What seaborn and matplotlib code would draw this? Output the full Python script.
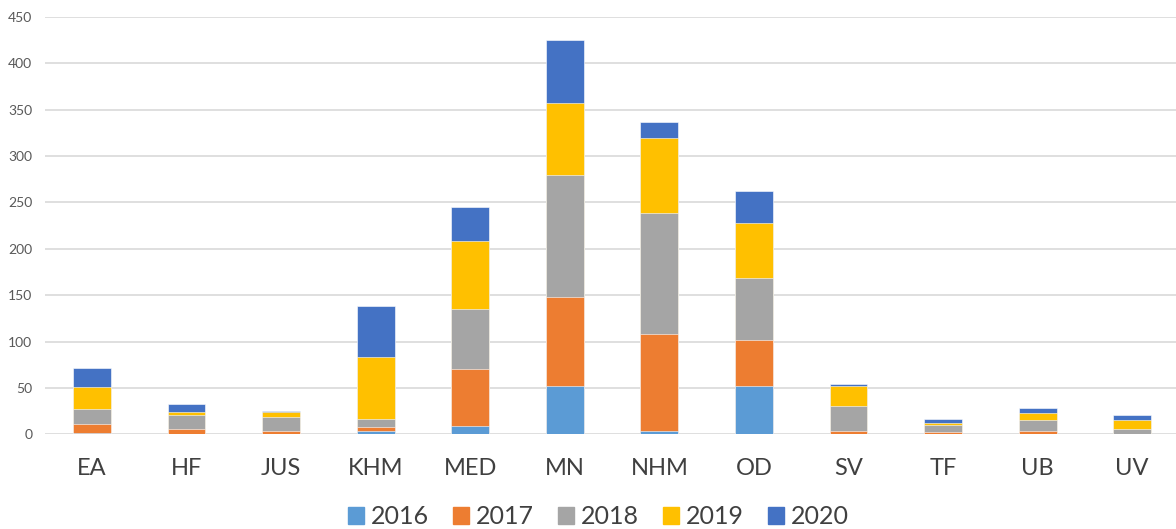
import matplotlib.pyplot as plt
import matplotlib.patches as mpatches
import numpy as np
import pandas as pd
import seaborn as sns

categories = ["EA", "HF", "JUS", "KHM", "MED", "MN", "NHM", "OD", "SV", "TF", "UB", "UV"]
years = ["2016", "2017", "2018", "2019", "2020"]
v2016 = [1, 0, 0, 4, 9, 52, 4, 52, 0, 0, 0, 0]
v2017 = [10, 6, 4, 4, 61, 96, 104, 50, 4, 3, 4, 0]
v2018 = [16, 15, 15, 9, 65, 132, 131, 67, 27, 7, 11, 6]
v2019 = [24, 3, 5, 66, 73, 77, 80, 59, 21, 2, 8, 9]
v2020 = [20, 9, 1, 55, 37, 68, 18, 34, 2, 4, 5, 6]
colors = ["#5B9BD5", "#ED7D31", "#A5A5A5", "#FFC000", "#4472C4"]

sns.set_style("white")
plt.rcParams["font.family"] = ["Lato", "DejaVu Sans"]

series = [v2016, v2017, v2018, v2019, v2020]
cum = np.cumsum(np.array(series), axis=0)

fig = plt.figure(figsize=(11.76, 5.29), dpi=100)
ax = fig.add_axes([0.038, 0.179, 0.965, 0.789])

# draw the cumulative totals from the top layer down so each year covers the one above
for i in range(len(years) - 1, -1, -1):
    df = pd.DataFrame({"cat": categories, "val": cum[i]})
    sns.barplot(data=df, x="cat", y="val", order=categories, color=colors[i],
                saturation=1, width=0.4, ax=ax, edgecolor="white", linewidth=0.4)

ax.set_ylim(0, 450)
ax.set_xlim(-0.5, 11.5)
ax.set_yticks(range(0, 451, 50))
ax.yaxis.grid(True, color="#D9D9D9", linewidth=1.2)
ax.set_axisbelow(True)
for s in ax.spines.values():
    s.set_visible(False)
ax.set_xlabel("")
ax.set_ylabel("")
ax.tick_params(axis="y", length=0, labelsize=10, labelcolor="#595959", pad=9)
ax.tick_params(axis="x", length=0, labelsize=17, labelcolor="#404040", pad=17)

handles = [mpatches.Patch(color=c, label=y) for c, y in zip(colors, years)]
fig.legend(handles=handles, loc="center", bbox_to_anchor=(0.509, 0.023), ncol=5,
           frameon=False, fontsize=18, handlelength=0.65, handleheight=0.65,
           handletextpad=0.28, columnspacing=0.95, labelcolor="#404040")

fig.savefig("out.png", dpi=100)
